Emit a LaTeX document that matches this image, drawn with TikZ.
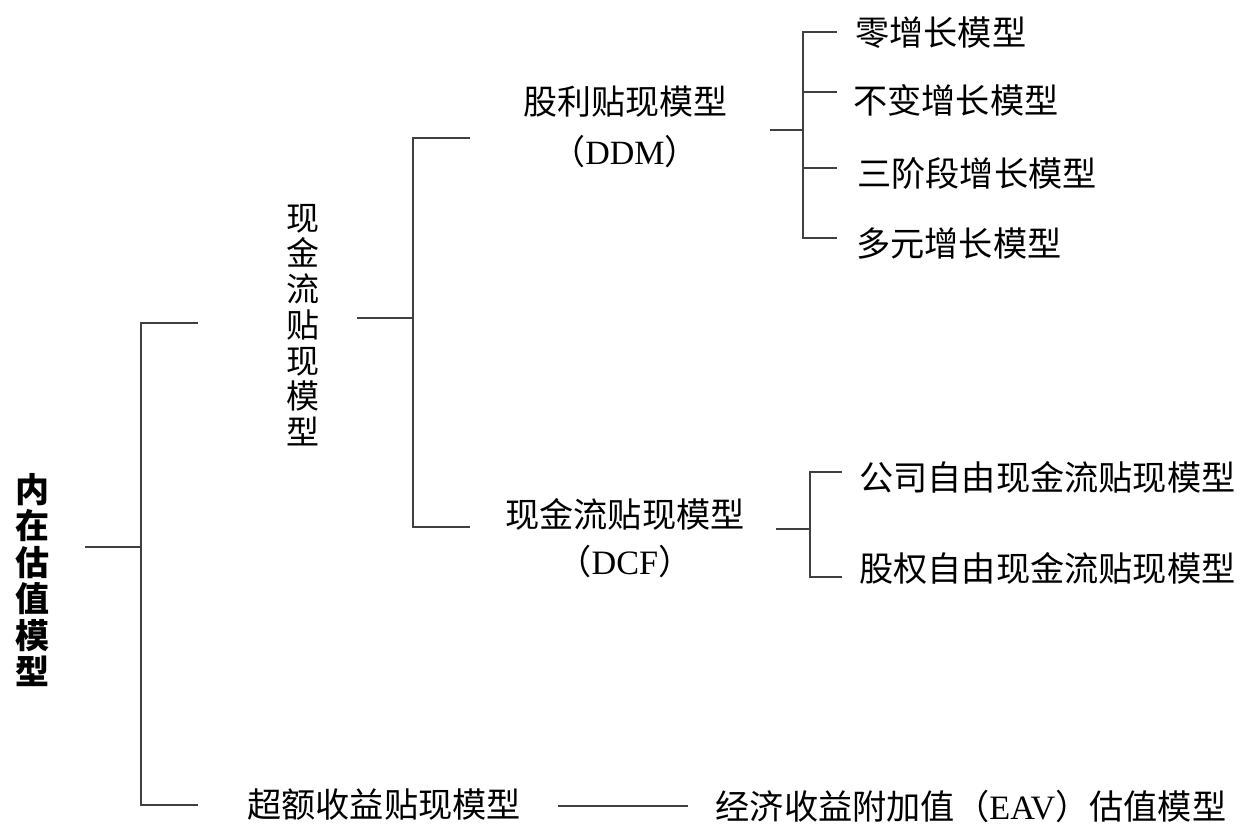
\documentclass[tikz,border=0pt]{standalone}
\usepackage{fontspec}
\setmainfont{Liberation Serif}
\newfontfamily\cjk{Noto Sans CJK SC}
\begin{document}
\begin{tikzpicture}[x=1pt,y=-1pt,
  conn/.style={draw=black!75,line width=2.2pt},
  lbl/.style={inner sep=0pt,font=\cjk\fontsize{34.2}{40}\selectfont,text=black},
  vlbl/.style={inner sep=0pt,align=center,font=\cjk\fontsize{33}{35.7}\selectfont,text=black},
  leaf/.style={lbl,anchor=west}]
\path[use as bounding box] (0,0) rectangle (1241,827);
% nodes
\node[vlbl,font=\cjk\bfseries\fontsize{34}{36.5}\selectfont] (root) at (32,580) {内\\在\\估\\值\\模\\型};
\node[vlbl] (cfd) at (303,325) {现\\金\\流\\贴\\现\\模\\型};
\node[lbl,align=center,font=\cjk\fontsize{34}{50}\selectfont] (ddm) at (625,127) {股利贴现模型\\（{\rmfamily DDM}）};
\node[lbl,align=center,font=\cjk\fontsize{34.2}{47}\selectfont] (dcf) at (625,538) {现金流贴现模型\\（{\rmfamily DCF}）};
\node[lbl] (exc) at (384,805) {超额收益贴现模型};
\node[lbl] (eav) at (971,806) {经济收益附加值（{\rmfamily EAV}）估值模型};
\node[leaf] (l1) at (855,33) {零增长模型};
\node[leaf] (l2) at (853,100) {不变增长模型};
\node[leaf] (l3) at (857,173) {三阶段增长模型};
\node[leaf] (l4) at (856,243) {多元增长模型};
\node[leaf] (l5) at (859,477) {公司自由现金流贴现模型};
\node[leaf] (l6) at (859,568) {股权自由现金流贴现模型};
% junction coordinates
\coordinate (r0) at (85,547);   \coordinate (r1) at (141,547);
\coordinate (rt) at (141,323);  \coordinate (rb) at (141,805);
\coordinate (rte) at (198,323); \coordinate (rbe) at (198,805);
\coordinate (c0) at (357,318);  \coordinate (c1) at (413,318);
\coordinate (ct) at (413,138);  \coordinate (cb) at (413,527);
\coordinate (cte) at (470,138); \coordinate (cbe) at (470,527);
\coordinate (d0) at (770,130);  \coordinate (d1) at (803,130);
\coordinate (dt) at (803,32);   \coordinate (db) at (803,238);
\coordinate (f0) at (776,529);  \coordinate (f1) at (810,529);
\coordinate (ft) at (810,472);  \coordinate (fb) at (810,577);
\coordinate (e0) at (558,806);  \coordinate (e1) at (688,806);
% connectors
\draw[conn] (r0) -- (r1);
\draw[conn] (rte) -- (rt) -- (rb) -- (rbe);
\draw[conn] (c0) -- (c1);
\draw[conn] (cte) -- (ct) -- (cb) -- (cbe);
\draw[conn] (d0) -- (d1);
\draw[conn] (837,32) -- (dt) -- (db) -- (837,238);
\draw[conn] (803,92) -- (837,92);
\draw[conn] (803,168) -- (837,168);
\draw[conn] (f0) -- (f1);
\draw[conn] (842,472) -- (ft) -- (fb) -- (842,577);
\draw[conn] (e0) -- (e1);
\end{tikzpicture}
\end{document}
